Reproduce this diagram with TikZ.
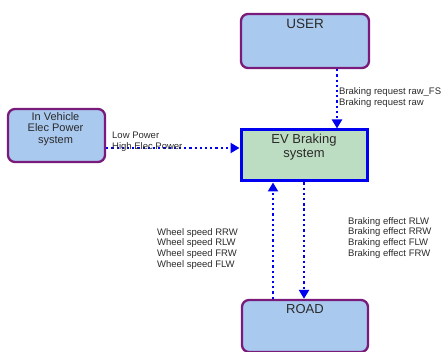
\documentclass[tikz,border=0pt]{standalone}
\usepackage{fontspec}
\setmainfont{Liberation Sans}
\usetikzlibrary{arrows.meta}
\definecolor{boxblue}{HTML}{A9C9EF}
\definecolor{boxpurple}{HTML}{7A1A7A}
\definecolor{evgreen}{HTML}{BDDDC2}
\definecolor{linkblue}{HTML}{0000F0}
\definecolor{txt}{HTML}{2A2A2A}
\begin{document}
\begin{tikzpicture}[x=1pt,y=-1pt,
  extbox/.style={draw=boxpurple, line width=2.3pt, fill=boxblue, rounded corners=7pt, inner sep=0pt},
  evbox/.style={draw=linkblue, line width=3pt, fill=evgreen, inner sep=0pt},
  boxtext/.style={anchor=north, inner sep=0pt, align=center, text=txt},
  link/.style={draw=linkblue, line width=2.3pt, dash pattern=on 2.3pt off 2.9pt,
    -{Triangle[width=10pt,length=9pt,fill=linkblue]}},
  lbl/.style={anchor=north west, inner sep=0pt, align=left, text=txt,
    font=\fontsize{9.5}{10.8}\selectfont}
]
\useasboundingbox (0,0) rectangle (443,352);

% boxes
\node[extbox, minimum width=128pt, minimum height=54pt] (user) at (305,41) {};
\node[extbox, minimum width=97pt, minimum height=53pt] (ivp) at (56.5,135.5) {};
\node[evbox, minimum width=126pt, minimum height=51pt] (ev) at (304,155.5) {};
\node[extbox, minimum width=126pt, minimum height=52pt] (road) at (305,326) {};

% box texts
\node[boxtext, font=\fontsize{13.5}{15}\selectfont] (usert) at (305,18.5) {USER};
\node[boxtext, font=\fontsize{11}{11.7}\selectfont] (ivpt) at (55.5,112) {In Vehicle\\Elec Power\\system};
\node[boxtext, font=\fontsize{13}{14}\selectfont] (evt) at (304,134) {EV Braking\\system};
\node[boxtext, font=\fontsize{13}{14}\selectfont] (roadt) at (305,304) {ROAD};

% helper coordinates
\coordinate (xu) at (337,0);
\coordinate (yi) at (0,148);
\coordinate (xr1) at (273,0);
\coordinate (xr2) at (304,0);

% connectors
\draw[link] (user.south -| xu) -- (ev.north -| xu);
\draw[link] (ivp.east |- yi) -- (ev.west |- yi);
\draw[link] (road.north -| xr1) -- (ev.south -| xr1);
\draw[link] (ev.south -| xr2) -- (road.north -| xr2);

% labels
\node[lbl] (lreq) at (339,87.5) {Braking request raw\_FS\\Braking request raw};
\node[lbl] (lpow) at (112,131.5) {Low Power\\High Elec Power};
\node[lbl] (lws) at (157,228) {Wheel speed RRW\\Wheel speed RLW\\Wheel speed FRW\\Wheel speed FLW};
\node[lbl] (lbe) at (348,217) {Braking effect RLW\\Braking effect RRW\\Braking effect FLW\\Braking effect FRW};
\end{tikzpicture}
\end{document}
